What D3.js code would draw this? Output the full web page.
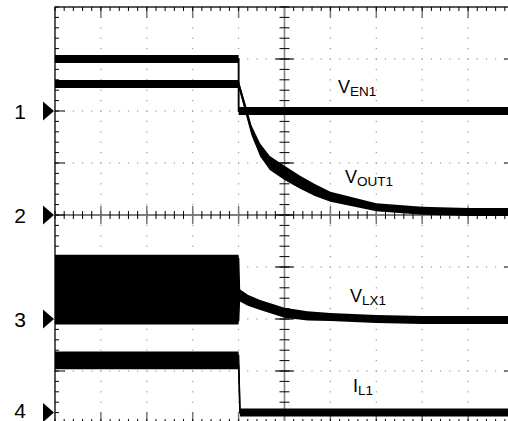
<!DOCTYPE html>
<html><head><meta charset="utf-8">
<script src="https://cdn.jsdelivr.net/npm/d3@7"></script>
<style>html,body{margin:0;padding:0;background:#fff;} svg{display:block}</style>
</head><body>
<svg id="chart" width="508" height="421"></svg>
<script>
// Horizontal: time in screen divisions (10 across). Vertical: divisions relative to each channel's ground marker.
const channelNames   = ["1", "2", "3", "4"];
const channelOffsets = [2, 0, -2, -3.8];

// CH1  V_EN1
const en1Time  = [0, 4.0, 4.0, 10];
const en1Upper = [0.52, 0.52, 0, 0];
const en1Lower = [0.52, 0.52, 0, 0];

// CH2  V_OUT1 (noise envelope widens during the decay)
const out1Time  = [0, 4.0, 4.0, 4.14, 4.28, 4.47, 4.68, 5.0, 5.34, 5.66, 6.0, 6.5, 7.0, 8.0, 9.0, 10];
const out1Upper = [3.0, 3.0, 2.52, 2.09, 1.65, 1.30, 1.06, 0.87, 0.68, 0.52, 0.37, 0.26, 0.15, 0.08, 0.06, 0.06];
const out1Lower = [3.0, 3.0, 2.52, 2.07, 1.61, 1.20, 0.94, 0.75, 0.58, 0.44, 0.33, 0.24, 0.15, 0.08, 0.06, 0.06];

// CH3  V_LX1 (switching envelope before turn-off)
const lx1Time  = [0, 4.0, 4.02, 4.2, 4.47, 5.0, 5.5, 6.0, 7.0, 8.0, 10];
const lx1Upper = [1.16, 1.16, 0.50, 0.39, 0.29, 0.14, 0.07, 0.04, 0.0, -0.02, -0.02];
const lx1Lower = [-0.03, -0.03, 0.42, 0.33, 0.25, 0.10, 0.05, 0.04, 0.0, -0.02, -0.02];

// CH4  I_L1 (ripple envelope before turn-off)
const il1Time  = [0, 4.0, 4.03, 10];
const il1Upper = [1.10, 1.10, 0, 0];
const il1Lower = [0.91, 0.91, 0, 0];

const labelMain = ["V", "V", "V", "I"];
const labelSub  = ["EN1", "OUT1", "LX1", "L1"];

const svg = d3.select("#chart");
const x = d3.scaleLinear().domain([0, 10]).range([55, 514]);
const y = d3.scaleLinear().domain([4, -4]).range([7, 423]);

const minorX = d3.range(0, 50.5, 1).map(i => i / 5);
const minorY = d3.range(-20, 20.5, 1).map(i => i / 5);
const majorX = d3.range(1, 10);
const majorY = d3.range(-3, 4);

const grid = svg.append("g");
// dotted gridlines
majorX.filter(v => v !== 5).forEach(v => {
  minorY.forEach(w => grid.append("rect").attr("x", x(v) - 0.6).attr("y", y(w) - 0.6).attr("width", 1.2).attr("height", 1.2).attr("fill", "#999"));
});
majorY.filter(v => v !== 0).forEach(v => {
  minorX.forEach(w => grid.append("rect").attr("x", x(w) - 0.6).attr("y", y(v) - 0.6).attr("width", 1.2).attr("height", 1.2).attr("fill", "#999"));
});
// major ticks at edges
majorX.forEach(v => {
  grid.append("line").attr("x1", x(v)).attr("x2", x(v)).attr("y1", y(4)).attr("y2", y(4) + 11).attr("stroke", "#777").attr("stroke-width", 1.5);
  grid.append("line").attr("x1", x(v)).attr("x2", x(v)).attr("y1", y(-4)).attr("y2", y(-4) - 11).attr("stroke", "#777").attr("stroke-width", 1.5);
});
majorY.forEach(v => {
  grid.append("line").attr("x1", x(0)).attr("x2", x(0) + 10).attr("y1", y(v)).attr("y2", y(v)).attr("stroke", "#333").attr("stroke-width", 1.2);
  grid.append("line").attr("x1", x(10)).attr("x2", x(10) - 10).attr("y1", y(v)).attr("y2", y(v)).attr("stroke", "#333").attr("stroke-width", 1.2);
});
// minor ticks at edges
minorX.forEach(v => {
  grid.append("line").attr("x1", x(v)).attr("x2", x(v)).attr("y1", y(4)).attr("y2", y(4) + 4).attr("stroke", "#000");
  grid.append("line").attr("x1", x(v)).attr("x2", x(v)).attr("y1", y(-4)).attr("y2", y(-4) - 4).attr("stroke", "#000");
});
minorY.forEach(v => {
  grid.append("line").attr("x1", x(0)).attr("x2", x(0) + 4).attr("y1", y(v)).attr("y2", y(v)).attr("stroke", "#000");
  grid.append("line").attr("x1", x(10)).attr("x2", x(10) - 4).attr("y1", y(v)).attr("y2", y(v)).attr("stroke", "#000");
});
// center cross
grid.append("line").attr("x1", x(5)).attr("x2", x(5)).attr("y1", y(4)).attr("y2", y(-4)).attr("stroke", "#888").attr("stroke-width", 1.6);
grid.append("line").attr("x1", x(0)).attr("x2", x(10)).attr("y1", y(0)).attr("y2", y(0)).attr("stroke", "#000").attr("stroke-width", 1.2);
minorY.forEach(v => {
  grid.append("line").attr("x1", x(5) - 5).attr("x2", x(5) + 5).attr("y1", y(v)).attr("y2", y(v)).attr("stroke", "#000");
});
minorX.forEach(v => {
  grid.append("line").attr("x1", x(v)).attr("x2", x(v)).attr("y1", y(0) - 4).attr("y2", y(0) + 4).attr("stroke", "#000");
});
majorX.forEach(v => {
  grid.append("line").attr("x1", x(v)).attr("x2", x(v)).attr("y1", y(0) - 9).attr("y2", y(0) + 9).attr("stroke", "#777").attr("stroke-width", 1.5);
});
majorY.forEach(v => {
  grid.append("line").attr("x1", x(5) - 9).attr("x2", x(5) + 9).attr("y1", y(v)).attr("y2", y(v)).attr("stroke", "#000").attr("stroke-width", 1.2);
});
// frame
grid.append("rect").attr("x", x(0)).attr("y", y(4)).attr("width", x(10) - x(0)).attr("height", y(-4) - y(4))
  .attr("fill", "none").attr("stroke", "#000").attr("stroke-width", 1.3);

// traces
const pen = 4;
const traces = [
  { t: en1Time,  up: en1Upper,  lo: en1Lower,  ch: 0 },
  { t: out1Time, up: out1Upper, lo: out1Lower, ch: 1 },
  { t: lx1Time,  up: lx1Upper,  lo: lx1Lower,  ch: 2 },
  { t: il1Time,  up: il1Upper,  lo: il1Lower,  ch: 3 }
];
const tg = svg.append("g");
traces.forEach(tr => {
  const off = channelOffsets[tr.ch];
  const pts = tr.t.map((t, i) => ({ t, up: tr.up[i] + off, lo: tr.lo[i] + off }));
  tg.append("path").datum(pts)
    .attr("d", d3.area().x(d => x(d.t)).y1(d => y(d.up) - pen).y0(d => y(d.lo) + pen))
    .attr("fill", "#000");
  ["up", "lo"].forEach(k => {
    tg.append("path").datum(pts)
      .attr("d", d3.line().x(d => x(d.t)).y(d => y(d[k])))
      .attr("fill", "none").attr("stroke", "#000").attr("stroke-width", 1.5);
  });
});

// channel markers
channelOffsets.forEach((off, i) => {
  const yy = y(off);
  svg.append("path").attr("d", `M43,${yy - 9.5}L54,${yy}L43,${yy + 9.5}Z`).attr("fill", "#000");
  svg.append("text").attr("x", 20).attr("y", Math.min(yy + 7.5, 418)).attr("text-anchor", "middle")
    .attr("font-family", "Liberation Sans, Arial, sans-serif").attr("font-size", 21).text(channelNames[i]);
});

// trace labels
const labelPos = [[338, 93], [345, 183], [350, 302], [353, 392]];
labelMain.forEach((m, i) => {
  const t = svg.append("text").attr("x", labelPos[i][0]).attr("y", labelPos[i][1])
    .attr("font-family", "Liberation Sans, Arial, sans-serif").attr("font-size", 18).attr("fill", "#000");
  t.append("tspan").text(m);
  t.append("tspan").attr("font-size", 13.5).attr("dy", 2.5).text(labelSub[i]);
});
</script>
</body></html>
